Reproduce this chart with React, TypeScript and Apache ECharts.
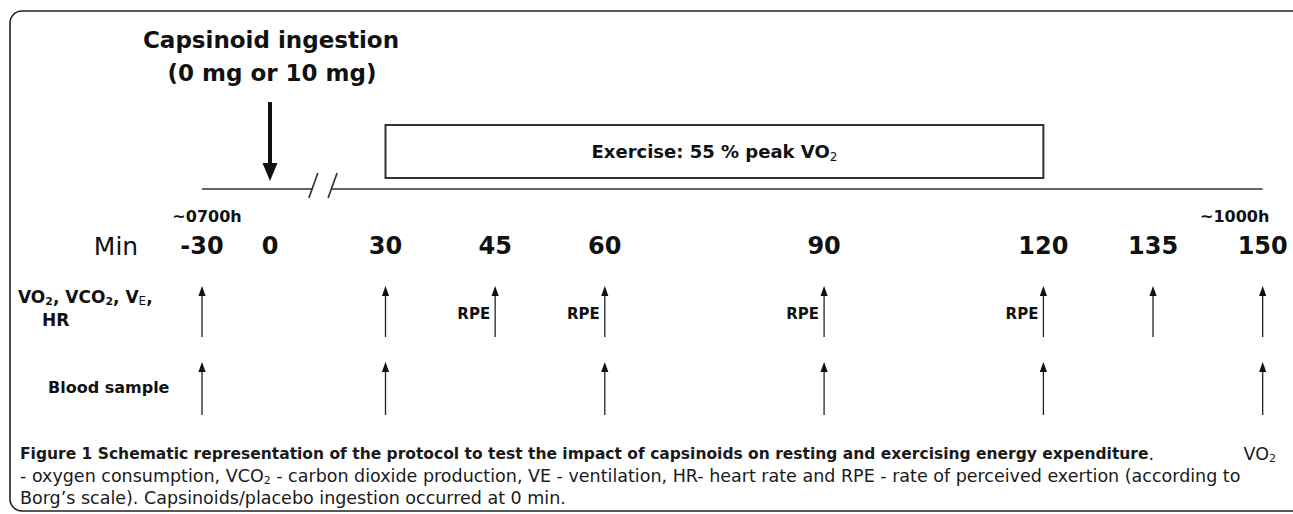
import React, { useEffect, useRef } from 'react';
import * as echarts from 'echarts';

// ---------------- data ----------------
const tickMinutes = [-30, 0, 30, 45, 60, 90, 120, 135, 150];
const tickLabels = ['-30', '0', '30', '45', '60', '90', '120', '135', '150'];
const gasExchangeTimes = [-30, 30, 45, 60, 90, 120, 135, 150];
const rpeTimes = [45, 60, 90, 120];
const bloodSampleTimes = [-30, 30, 60, 90, 120, 150];
const ingestionMinutes = [0];
const exerciseWindow = [30, 120];
const timelineSpan = [-30, 150];
const axisBreakMinutes = [11, 16];
const clockLabels = ['~0700h', '~1000h'];
const ingestionLabel = ['Capsinoid ingestion', '(0 mg or 10 mg)'];
const captionBold =
  'Figure 1 Schematic representation of the protocol to test the impact of capsinoids on resting and exercising energy expenditure';
const captionLine2a = '- oxygen consumption, VCO';
const captionLine2b =
  ' - carbon dioxide production, VE - ventilation, HR- heart rate and RPE - rate of perceived exertion (according to';
const captionLine3 = 'Borg\u2019s scale). Capsinoids/placebo ingestion occurred at 0 min.';

// broken time axis: minutes before 30 are compressed (schematic axis break)
const PRE_ZERO = 14.2;
const PRE_START = 4.9;
function pos(t: number): number {
  if (t >= 30) return t;
  if (t >= 0) return PRE_ZERO + ((30 - PRE_ZERO) * t) / 30;
  return PRE_ZERO + ((PRE_ZERO - PRE_START) * t) / 30;
}

// layout (vertical, in pixels via the hidden y axis)
const Y = {
  title1: 40,
  title2: 73,
  ingTop: 102,
  ingTip: 181,
  boxTop: 125,
  boxBottom: 178,
  line: 189,
  clock: 216,
  tick: 246,
  row1Tip: 286,
  row1Bottom: 337,
  rpe: 314,
  row2Tip: 362,
  row2Bottom: 415,
};

const DIAG = '"DejaVu Sans", sans-serif';
const CAP = '"DejaVu Sans", sans-serif';
const INK = '#111';
const CAP_INK = '#1a1a1a';

function arrowEls(x: number, tip: number, bottom: number) {
  const hw = 3.6;
  const hh = 10;
  return [
    {
      type: 'line',
      shape: { x1: x, y1: tip + hh - 1, x2: x, y2: bottom },
      style: { stroke: '#222', lineWidth: 1.3 },
    },
    {
      type: 'polygon',
      shape: { points: [[x, tip], [x - hw, tip + hh], [x + hw, tip + hh]] },
      style: { fill: '#111' },
    },
  ];
}

export default function App() {
  const ref = useRef<HTMLDivElement>(null);

  useEffect(() => {
    if (!ref.current) return;
    const chart = echarts.init(ref.current, undefined, { renderer: 'svg' });

    const option: any = {
      animation: false,
      backgroundColor: '#fff',
      grid: { left: 166.2, right: 15.7, top: 0, bottom: 0 },
      xAxis: { type: 'value', min: 0, max: 152, show: false },
      yAxis: { type: 'value', min: 0, max: 514, inverse: true, show: false },
      series: [
        // main timeline with axis break
        {
          type: 'custom',
          clip: false,
          silent: true,
          data: [[pos(timelineSpan[0]), Y.line, pos(timelineSpan[1]), pos(axisBreakMinutes[0]), pos(axisBreakMinutes[1])]],
          renderItem: (_p: any, api: any) => {
            const [x0, y] = api.coord([api.value(0), Y.line]);
            const [x1] = api.coord([api.value(2), Y.line]);
            const [b0] = api.coord([api.value(3), Y.line]);
            const [b1] = api.coord([api.value(4), Y.line]);
            const st = { stroke: '#333', lineWidth: 1.7 };
            return {
              type: 'group',
              children: [
                { type: 'line', shape: { x1: x0, y1: y, x2: b0, y2: y }, style: st },
                { type: 'line', shape: { x1: b1, y1: y, x2: x1, y2: y }, style: st },
                { type: 'line', shape: { x1: b0 - 3.5, y1: y + 9, x2: b0 + 5.5, y2: y - 16 }, style: st },
                { type: 'line', shape: { x1: b1 - 3.5, y1: y + 9, x2: b1 + 5.5, y2: y - 16 }, style: st },
              ],
            };
          },
        },
        // exercise box
        {
          type: 'custom',
          clip: false,
          silent: true,
          data: [[pos(exerciseWindow[0]), Y.boxTop, pos(exerciseWindow[1])]],
          renderItem: (_p: any, api: any) => {
            const [x0, y0] = api.coord([api.value(0), Y.boxTop]);
            const [x1, y1] = api.coord([api.value(2), Y.boxBottom]);
            return {
              type: 'group',
              children: [
                {
                  type: 'rect',
                  shape: { x: x0, y: y0, width: x1 - x0, height: y1 - y0 },
                  style: { fill: '#fff', stroke: '#333', lineWidth: 2 },
                },
                {
                  type: 'text',
                  x: (x0 + x1) / 2,
                  y: (y0 + y1) / 2,
                  style: {
                    text: '{a|Exercise: 55 % peak VO}{s|2}',
                    align: 'center',
                    verticalAlign: 'middle',
                    rich: {
                      a: { fontFamily: DIAG, fontSize: 18, fontWeight: 'bold', fill: INK, lineHeight: 22 },
                      s: { fontFamily: DIAG, fontSize: 12, fill: INK, lineHeight: 12, verticalAlign: 'bottom' },
                    },
                  },
                },
              ],
            };
          },
        },
        // ingestion arrow + title
        {
          type: 'custom',
          clip: false,
          silent: true,
          data: ingestionMinutes.map((t) => [pos(t), Y.ingTop]),
          renderItem: (_p: any, api: any) => {
            const [x] = api.coord([api.value(0), Y.ingTop]);
            return {
              type: 'group',
              children: [
                {
                  type: 'line',
                  shape: { x1: x, y1: Y.ingTop, x2: x, y2: Y.ingTip - 14 },
                  style: { stroke: '#111', lineWidth: 4 },
                },
                {
                  type: 'polygon',
                  shape: { points: [[x - 7.5, Y.ingTip - 18], [x + 7.5, Y.ingTip - 18], [x, Y.ingTip]] },
                  style: { fill: '#111' },
                },
                {
                  type: 'text',
                  x: x + 1,
                  y: Y.title1,
                  style: {
                    text: ingestionLabel[0],
                    align: 'center',
                    verticalAlign: 'middle',
                    fontFamily: DIAG,
                    fontSize: 23,
                    fontWeight: 'bold',
                    fill: INK,
                  },
                },
                {
                  type: 'text',
                  x: x + 2,
                  y: Y.title2,
                  style: {
                    text: ingestionLabel[1],
                    align: 'center',
                    verticalAlign: 'middle',
                    fontFamily: DIAG,
                    fontSize: 23,
                    fontWeight: 'bold',
                    fill: INK,
                  },
                },
              ],
            };
          },
        },
        // tick labels
        {
          type: 'custom',
          clip: false,
          silent: true,
          data: tickMinutes.map((t, i) => [pos(t), Y.tick, i]),
          renderItem: (_p: any, api: any) => {
            const [x, y] = api.coord([api.value(0), api.value(1)]);
            return {
              type: 'text',
              x,
              y,
              style: {
                text: tickLabels[api.value(2)],
                align: 'center',
                verticalAlign: 'middle',
                fontFamily: DIAG,
                fontSize: 24,
                fontWeight: 'bold',
                fill: INK,
              },
            };
          },
        },
        // clock labels at start / end of the timeline
        {
          type: 'custom',
          clip: false,
          silent: true,
          data: timelineSpan.map((t, i) => [pos(t), Y.clock, i]),
          renderItem: (_p: any, api: any) => {
            const i = api.value(2);
            const [x, y] = api.coord([api.value(0), api.value(1)]);
            return {
              type: 'text',
              x: i === 0 ? x + 5 : x - 28,
              y,
              style: {
                text: clockLabels[i],
                align: 'center',
                verticalAlign: 'middle',
                fontFamily: DIAG,
                fontSize: 16,
                fontWeight: 'bold',
                fill: INK,
              },
            };
          },
        },
        // VO2 / VCO2 / VE / HR measurement arrows
        {
          type: 'custom',
          clip: false,
          silent: true,
          data: gasExchangeTimes.map((t) => [pos(t), Y.row1Tip]),
          renderItem: (_p: any, api: any) => {
            const [x] = api.coord([api.value(0), Y.row1Tip]);
            return { type: 'group', children: arrowEls(x, Y.row1Tip, Y.row1Bottom) };
          },
        },
        // RPE labels
        {
          type: 'custom',
          clip: false,
          silent: true,
          data: rpeTimes.map((t) => [pos(t), Y.rpe]),
          renderItem: (_p: any, api: any) => {
            const [x, y] = api.coord([api.value(0), Y.rpe]);
            return {
              type: 'text',
              x: x - 5,
              y,
              style: {
                text: 'RPE',
                align: 'right',
                verticalAlign: 'middle',
                fontFamily: DIAG,
                fontSize: 15,
                fontWeight: 'bold',
                fill: INK,
              },
            };
          },
        },
        // blood sample arrows
        {
          type: 'custom',
          clip: false,
          silent: true,
          data: bloodSampleTimes.map((t) => [pos(t), Y.row2Tip]),
          renderItem: (_p: any, api: any) => {
            const [x] = api.coord([api.value(0), Y.row2Tip]);
            return { type: 'group', children: arrowEls(x, Y.row2Tip, Y.row2Bottom) };
          },
        },
      ],
      graphic: [
        {
          type: 'rect',
          z: -10,
          silent: true,
          shape: { x: 10, y: 11, width: 1300, height: 500, r: 12 },
          style: { fill: 'none', stroke: '#222', lineWidth: 1.6 },
        },
        {
          type: 'text',
          x: 116,
          y: Y.tick,
          style: {
            text: 'Min',
            align: 'center',
            verticalAlign: 'middle',
            fontFamily: DIAG,
            fontSize: 25,
            fill: INK,
          },
        },
        {
          type: 'text',
          x: 18,
          y: 297,
          style: {
            text: '{a|VO}{s|2}{a|, VCO}{s|2}{a|, V}{e|E}{a|,}',
            align: 'left',
            verticalAlign: 'middle',
            rich: {
              a: { fontFamily: DIAG, fontSize: 17, fontWeight: 'bold', fill: INK, lineHeight: 20 },
              s: { fontFamily: DIAG, fontSize: 11, fontWeight: 'bold', fill: INK, lineHeight: 10, verticalAlign: 'bottom' },
              e: { fontFamily: DIAG, fontSize: 12, fill: INK, lineHeight: 15, verticalAlign: 'bottom' },
            },
          },
        },
        {
          type: 'text',
          x: 42,
          y: 320,
          style: {
            text: 'HR',
            align: 'left',
            verticalAlign: 'middle',
            fontFamily: DIAG,
            fontSize: 17,
            fontWeight: 'bold',
            fill: INK,
          },
        },
        {
          type: 'text',
          x: 48,
          y: 387,
          style: {
            text: 'Blood sample',
            align: 'left',
            verticalAlign: 'middle',
            fontFamily: DIAG,
            fontSize: 16,
            fontWeight: 'bold',
            fill: INK,
          },
        },
        {
          type: 'text',
          x: 20,
          y: 454,
          style: {
            text: '{b|' + captionBold + '}{r|.}',
            align: 'left',
            verticalAlign: 'middle',
            rich: {
              b: { fontFamily: CAP, fontSize: 15.5, fontWeight: 'bold', fill: CAP_INK, lineHeight: 19 },
              r: { fontFamily: CAP, fontSize: 17.5, fill: CAP_INK, lineHeight: 19 },
            },
          },
        },
        {
          type: 'text',
          x: 1276,
          y: 454,
          style: {
            text: '{r|VO}{s|2}',
            align: 'right',
            verticalAlign: 'middle',
            rich: {
              r: { fontFamily: CAP, fontSize: 17.5, fill: CAP_INK, lineHeight: 19 },
              s: { fontFamily: CAP, fontSize: 11, fill: CAP_INK, lineHeight: 10, verticalAlign: 'bottom' },
            },
          },
        },
        {
          type: 'text',
          x: 20,
          y: 476,
          style: {
            text: '{r|' + captionLine2a + '}{s|2}{r|' + captionLine2b + '}',
            align: 'left',
            verticalAlign: 'middle',
            rich: {
              r: { fontFamily: CAP, fontSize: 17.5, fill: CAP_INK, lineHeight: 19 },
              s: { fontFamily: CAP, fontSize: 11, fill: CAP_INK, lineHeight: 10, verticalAlign: 'bottom' },
            },
          },
        },
        {
          type: 'text',
          x: 20,
          y: 498,
          style: {
            text: captionLine3,
            align: 'left',
            verticalAlign: 'middle',
            fontFamily: CAP,
            fontSize: 17.5,
            lineHeight: 19,
            fill: CAP_INK,
          },
        },
      ],
    };

    chart.setOption(option);
    return () => chart.dispose();
  }, []);

  return (
    <div
      ref={ref}
      style={{ position: 'absolute', left: 0, top: 0, width: 1293, height: 514, background: '#fff' }}
    />
  );
}
